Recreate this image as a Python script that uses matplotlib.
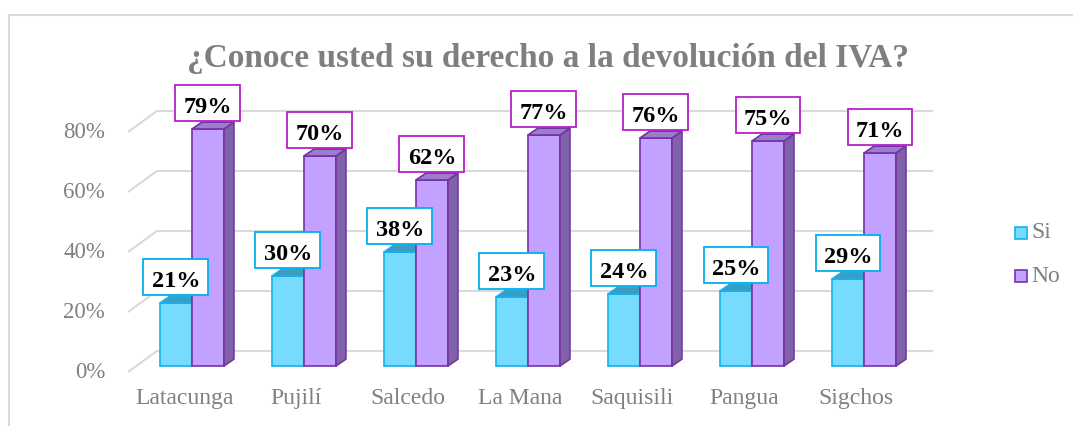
import matplotlib
matplotlib.use('Agg')
import matplotlib.pyplot as plt
from matplotlib.patches import Rectangle, Polygon
from matplotlib.lines import Line2D

plt.rcParams['font.family'] = ['Liberation Serif', 'DejaVu Serif']

# datos
categorias = ['Latacunga', 'Pujilí', 'Salcedo', 'La Mana', 'Saquisili', 'Pangua', 'Sigchos']
si = [0.21, 0.30, 0.38, 0.23, 0.24, 0.25, 0.29]
no = [0.79, 0.70, 0.62, 0.77, 0.76, 0.75, 0.71]
ticks = [0.0, 0.2, 0.4, 0.6, 0.8]

# colores
si_front, si_edge, si_top = '#75DBFF', '#17B0EB', '#3E9DBE'
no_front, no_edge, no_side, no_top = '#C3A1FF', '#7432A8', '#7F63A6', '#9B7DCB'
gris = '#808080'

fig = plt.figure(figsize=(10.73, 4.26), dpi=100)
ax = fig.add_axes([128 / 1073, 36 / 426, 807 / 1073, 320 / 426])
ax.set_xlim(-0.571, 6.634)
ax.set_ylim(-0.08, 0.9867)
ax.axis('off')

# borde del grafico
fig.add_artist(Line2D([9 / 1073, 1], [1 - 15 / 426, 1 - 15 / 426], color='#D9D9D9', lw=1.5))
fig.add_artist(Line2D([9 / 1073, 9 / 1073], [0, 1 - 15 / 426], color='#D9D9D9', lw=1.5))

# lineas de cuadricula en perspectiva
for v in ticks:
    ax.plot([-0.571, -0.3125, 6.616], [v - 0.02, v + 0.05, v + 0.05],
            color='#D9D9D9', lw=1.5, zorder=0, solid_capstyle='butt')
    ax.text(-0.776, v - 0.02, '%d%%' % round(v * 100), ha='right', va='center',
            fontsize=16.5, color=gris, clip_on=False)

w = 0.2857
dx, dy = 0.089, 0.023


def barra_3d(x0, h, front, edge, side, top, z):
    ax.add_patch(Rectangle((x0, 0), w, h, facecolor=front, edgecolor=edge, lw=1.2, zorder=z))
    ax.add_patch(Polygon([(x0 + w, 0), (x0 + w + dx, dy), (x0 + w + dx, h + dy), (x0 + w, h)],
                         closed=True, facecolor=side, edgecolor=edge, lw=1.2, zorder=z))
    ax.add_patch(Polygon([(x0, h), (x0 + w, h), (x0 + w + dx, h + dy), (x0 + dx, h + dy)],
                         closed=True, facecolor=top, edgecolor=edge, lw=1.2, zorder=z))


for i, (s, n) in enumerate(zip(si, no)):
    barra_3d(i - w, s, si_front, si_edge, si_top, si_top, 2)
    barra_3d(i, n, no_front, no_edge, no_side, no_top, 3)

    # etiquetas de datos
    for xc, val, col in [(i - w / 2, s, '#00B0F0'), (i + w / 2, n, '#B61FC9')]:
        ax.add_patch(Rectangle((xc - 0.29, val + 0.087 - 0.06), 0.58, 0.12,
                               facecolor='white', edgecolor=col, lw=1.3, zorder=5))
        ax.text(xc, val + 0.053, '%d%%' % round(val * 100), ha='center', va='baseline',
                fontsize=17.5, fontweight='bold', color='black', zorder=6)

    ax.text(i - 0.07, -0.107, categorias[i], ha='center', va='center',
            fontsize=17, color=gris, clip_on=False)

# titulo
fig.text(0.5103, 1 - 67 / 426, '¿Conoce usted su derecho a la devolución del IVA?',
         ha='center', va='baseline', fontsize=24, fontweight='bold', color='#7F7F7F')

# leyenda
for yc, lab, fc, ec in [(233, 'Si', si_front, si_edge), (276, 'No', no_front, no_edge)]:
    fig.add_artist(Rectangle((1015 / 1073, 1 - (yc + 6) / 426), 12 / 1073, 12 / 426,
                             transform=fig.transFigure, facecolor=fc, edgecolor=ec, lw=1.2))
    fig.text(1031 / 1073, 1 - yc / 426, lab, ha='left', va='center', fontsize=17, color=gris)

plt.savefig('out.png', dpi=100)
